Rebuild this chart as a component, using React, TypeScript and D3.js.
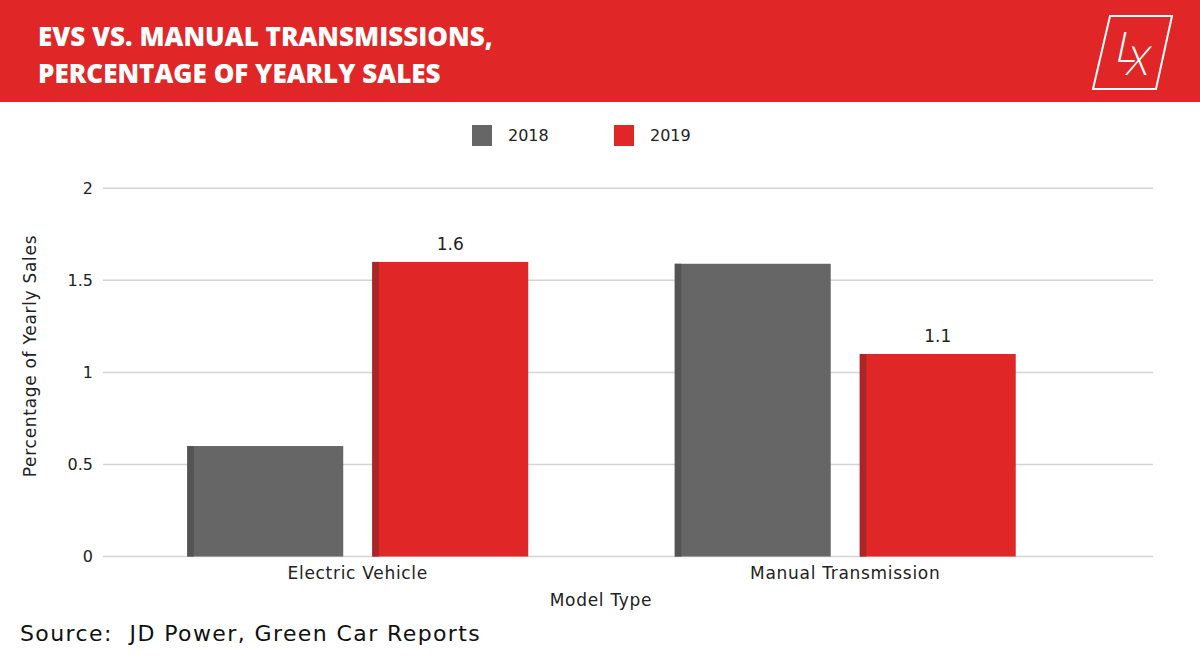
import * as d3 from "d3";

const WIDTH = 1200;
const HEIGHT = 662;

const categories = ["Electric Vehicle", "Manual Transmission"];
const years = ["2018", "2019"];
const values2018 = [0.6, 1.59];
const values2019 = [1.6, 1.1];
const yTicks = [0, 0.5, 1, 1.5, 2];
const labelledYear = "2019";

const RED = "#e02626";
const RED_DARK = "#a82626";
const GREY = "#666666";
const GREY_DARK = "#545454";
const FONT = "'DejaVu Sans', sans-serif";
const TITLE_FONT = "'Open Sans', sans-serif";

const colors: { [key: string]: string } = { "2018": GREY, "2019": RED };
const edgeColors: { [key: string]: string } = { "2018": GREY_DARK, "2019": RED_DARK };

const rows = categories.map((c, i) => ({
  category: c,
  "2018": values2018[i],
  "2019": values2019[i],
}));

const App = () => {
  const yScale = d3.scaleLinear().domain([0, 2]).range([556.5, 188.3]);

  const xScale = d3.scaleBand().domain(categories).range([114, 1089]).padding(0);

  const innerScale = d3
    .scaleBand()
    .domain(years)
    .range([0, xScale.bandwidth()])
    .paddingInner(0.157)
    .paddingOuter(0.396);

  const grid = yTicks.map((t) => (
    <g key={t}>
      <line
        x1={103}
        x2={1153}
        y1={yScale(t)}
        y2={yScale(t)}
        stroke="#d4d4d4"
        strokeWidth={1.5}
      />
      <text
        x={93}
        y={yScale(t)}
        textAnchor="end"
        dominantBaseline="central"
        fontSize={16}
        fill="#222"
      >
        {t}
      </text>
    </g>
  ));

  const bars = rows.map((row) => (
    <g key={row.category} transform={`translate(${xScale(row.category)},0)`}>
      {years.map((yr) => {
        const v = (row as any)[yr] as number;
        const x = innerScale(yr)!;
        const w = innerScale.bandwidth();
        const top = yScale(v);
        const h = yScale(0) - top;
        return (
          <g key={yr}>
            <rect x={x} y={top} width={w} height={h} fill={colors[yr]} />
            <rect x={x} y={top} width={6.5} height={h} fill={edgeColors[yr]} />
            {yr === labelledYear && (
              <text
                x={x + w / 2}
                y={top - 12}
                textAnchor="middle"
                fontSize={17}
                fill="#222"
              >
                {v}
              </text>
            )}
          </g>
        );
      })}
      <text
        x={xScale.bandwidth() / 2}
        y={579}
        textAnchor="middle"
        fontSize={17}
        letterSpacing={0.7}
        fill="#222"
      >
        {row.category}
      </text>
    </g>
  ));

  const legendX = [472, 614];
  const legend = years.map((yr, i) => (
    <g key={yr} transform={`translate(${legendX[i]},125)`}>
      <rect width={20} height={21} fill={colors[yr]} />
      <text x={36} y={16} fontSize={16} fill="#222">
        {yr}
      </text>
    </g>
  ));

  return (
    <div style={{ position: "absolute", left: 0, top: 0 }}>
      <svg
        width={WIDTH}
        height={HEIGHT}
        style={{ display: "block", fontFamily: FONT }}
      >
        <rect width={WIDTH} height={HEIGHT} fill="#ffffff" />
        <rect width={WIDTH} height={102} fill={RED} />
        <g fontFamily={TITLE_FONT} fontSize={26} fontWeight={800} fill="#fff">
          <text x={38} y={46}>
            EVS VS. MANUAL TRANSMISSIONS,
          </text>
          <text x={38} y={83}>
            PERCENTAGE OF YEARLY SALES
          </text>
        </g>
        <g fontFamily={TITLE_FONT}>
          <path
            d="M1110,16 L1172,16 L1156,89 L1093,89 Z"
            fill="none"
            stroke="#fff"
            strokeWidth={2}
          />
          <text
            x={1114}
            y={62}
            fontSize={42}
            fontWeight={300}
            fill="#fff"
            transform="skewX(-12) translate(13,0)"
          >
            L
          </text>
          <text
            x={1126}
            y={75}
            fontSize={40}
            fontWeight={300}
            fill="#fff"
            transform="skewX(-12) translate(15,0)"
          >
            X
          </text>
        </g>

        {legend}
        {grid}
        {bars}

        <text
          transform="translate(36,356) rotate(-90)"
          textAnchor="middle"
          fontSize={17}
          letterSpacing={0.7}
          fill="#222"
        >
          Percentage of Yearly Sales
        </text>
        <text
          x={601}
          y={606}
          textAnchor="middle"
          fontSize={17}
          letterSpacing={0.7}
          fill="#222"
        >
          Model Type
        </text>
        <text x={20} y={641} fontSize={22} letterSpacing={1.4} fill="#111">
          Source:{"\u00a0\u00a0"}JD Power, Green Car Reports
        </text>
      </svg>
    </div>
  );
};

export default App;
